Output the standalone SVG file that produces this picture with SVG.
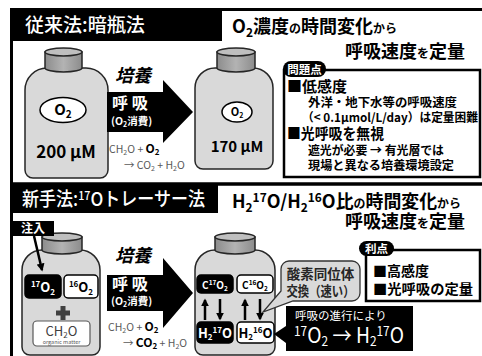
<svg xmlns="http://www.w3.org/2000/svg" width="482" height="356" viewBox="0 0 482 356">
<style>
  text { font-family: "Noto Sans CJK JP", "Noto Sans", sans-serif; }
  .hdr { fill: #fff; font-size: 19px; font-weight: 500; }
  .ttl { fill: #000; font-size: 18px; font-weight: bold; }
  .sm { font-size: 12px; }
  .bottle { fill: #d9d9d9; stroke: #262626; stroke-width: 1.5; }
  .cap { fill: url(#capGrad); stroke: #262626; stroke-width: 1.5; }
  .capTop { fill: #bfbfbf; stroke: #262626; stroke-width: 1.5; }
  .big { fill: #000; }
  .wt { fill: #fff; font-weight: bold; }
  .eq { fill: #595959; font-size: 10.5px; }
  .eqb { fill: #000; font-weight: bold; font-size: 12px; }
  .kb { fill: #000; stroke: #000; stroke-width: 1.5; }
  .wb { fill: #fff; stroke: #000; stroke-width: 1.5; }
  .frame { fill: none; stroke: #000; stroke-width: 3; }
  .note { font-size: 12px; font-weight: bold; fill: #000; }
  .item { font-size: 15px; font-weight: bold; fill: #000; }
  .item2 { font-size: 14px; font-weight: bold; fill: #000; }
</style>
<defs>
  <linearGradient id="capGrad" x1="0" y1="0" x2="1" y2="0">
    <stop offset="0" stop-color="#8c8c8c"/>
    <stop offset="0.5" stop-color="#b3b3b3"/>
    <stop offset="1" stop-color="#8c8c8c"/>
  </linearGradient>
  <marker id="ah" viewBox="0 0 10 10" refX="8" refY="5" markerWidth="3.2" markerHeight="3.2" orient="auto">
    <path d="M0,0 L10,5 L0,10 Z" fill="#000"/>
  </marker>
</defs>

<rect width="482" height="356" fill="#fff"/>

<!-- frames -->
<g id="frames">
  <path class="frame" d="M11.5,356 V9.5 H490"/>
  <line x1="10" y1="184" x2="490" y2="184" stroke="#000" stroke-width="3.5"/>
</g>

<!-- ===== top panel: conventional method ===== -->
<g id="header-old">
  <rect x="10" y="8" width="212" height="33" fill="#000"/>
  <text class="hdr" x="25" y="32">従来法:暗瓶法</text>
</g>
<g id="title-old">
  <text class="ttl" x="232" y="33">O<tspan font-size="12" dy="4">2</tspan><tspan dy="-4">濃度</tspan><tspan class="sm">の</tspan>時間変化<tspan class="sm">から</tspan></text>
  <text class="ttl" x="465" y="58" text-anchor="end">呼吸速度<tspan class="sm">を</tspan>定量</text>
</g>

<g id="bottle-200">
  <path class="bottle" d="M25,170 V90 A22 22 0 0 1 47,68 H86 A22 22 0 0 1 108,90 V170 A8 8 0 0 1 100,178 H33 A8 8 0 0 1 25,170 Z"/>
  <path class="cap" d="M45,52 V68 A18.5 4 0 0 0 82,68 V52 Z"/>
  <ellipse class="capTop" cx="63.5" cy="52" rx="18.5" ry="4"/>
  <ellipse cx="63" cy="110" rx="23" ry="12.5" fill="#fff" stroke="#000" stroke-width="1.5"/>
  <text x="63" y="115" text-anchor="middle" font-size="15" font-weight="bold">O<tspan font-size="10" dy="3">2</tspan></text>
  <text x="66" y="158" text-anchor="middle" font-size="17" font-weight="bold">200 μM</text>
</g>

<g id="culture-old">
  <path class="big" d="M107,92 H163 V80 L193,112 L163,143 V132 H107 Z"/>
  <text x="133" y="82" text-anchor="middle" font-size="18" font-weight="bold" font-style="italic">培養</text>
  <text class="wt" x="112" y="109" font-size="16">呼 吸</text>
  <text class="wt" x="111" y="125" font-size="10.5">(O<tspan font-size="7" dy="2">2</tspan><tspan dy="-2">消費)</tspan></text>
  <text class="eq" x="109" y="153">CH<tspan font-size="7" dy="2">2</tspan><tspan dy="-2">O + </tspan><tspan class="eqb">O<tspan font-size="8" dy="2">2</tspan></tspan></text>
  <text class="eq" x="124" y="169">→ CO<tspan font-size="7" dy="2">2</tspan><tspan dy="-2"> + H</tspan><tspan font-size="7" dy="2">2</tspan><tspan dy="-2">O</tspan></text>
</g>

<g id="bottle-170">
  <path class="bottle" d="M195,161 V88 A20 20 0 0 1 215,68 H253 A20 20 0 0 1 273,88 V161 A8 8 0 0 1 265,169 H203 A8 8 0 0 1 195,161 Z"/>
  <path class="cap" d="M217,52 V68 A19 4 0 0 0 255,68 V52 Z"/>
  <ellipse class="capTop" cx="236" cy="52" rx="19" ry="4"/>
  <ellipse cx="237" cy="112" rx="15" ry="10" fill="#fff" stroke="#000" stroke-width="1.5"/>
  <text x="237" y="116" text-anchor="middle" font-size="11" font-weight="bold">O<tspan font-size="7" dy="2">2</tspan></text>
  <text x="237" y="152" text-anchor="middle" font-size="15" font-weight="bold">170 μM</text>
</g>

<g id="problems">
  <rect x="284" y="70" width="196" height="107" fill="#fff" stroke="#000" stroke-width="2.5"/>
  <rect x="283" y="61" width="43" height="16" rx="8" fill="#000"/>
  <text class="wt" x="304.5" y="73.5" text-anchor="middle" font-size="11.5">問題点</text>
  <text class="item" x="287" y="92">■低感度</text>
  <text class="note" x="308" y="107" textLength="149" lengthAdjust="spacingAndGlyphs">外洋・地下水等の呼吸速度</text>
  <text class="note" x="302" y="122" textLength="176" lengthAdjust="spacingAndGlyphs">（&lt; 0.1μmol/L/day）は定量困難</text>
  <text class="item" x="287" y="139" textLength="97" lengthAdjust="spacingAndGlyphs">■光呼吸を無視</text>
  <text class="note" x="308" y="155" textLength="136" lengthAdjust="spacingAndGlyphs">遮光が必要 → 有光層では</text>
  <text class="note" x="308" y="170" textLength="146" lengthAdjust="spacingAndGlyphs">現場と異なる培養環境設定</text>
</g>

<!-- ===== bottom panel: 17O tracer method ===== -->
<g id="header-new">
  <rect x="10" y="184" width="208" height="29" fill="#000"/>
  <text class="hdr" x="22" y="206" textLength="183" lengthAdjust="spacingAndGlyphs">新手法:<tspan font-size="12" dy="-6">17</tspan><tspan dy="6">Oトレーサー法</tspan></text>
</g>
<g id="title-new">
  <text class="ttl" x="232" y="208" textLength="229" lengthAdjust="spacingAndGlyphs">H<tspan font-size="12" dy="4">2</tspan><tspan font-size="12" dy="-10">17</tspan><tspan dy="6">O/H</tspan><tspan font-size="12" dy="4">2</tspan><tspan font-size="12" dy="-10">16</tspan><tspan dy="6">O比</tspan><tspan class="sm">の</tspan>時間変化<tspan class="sm">から</tspan></text>
  <text class="ttl" x="465" y="228" text-anchor="end">呼吸速度<tspan class="sm">を</tspan>定量</text>
</g>

<g id="bottle-start">
  <path class="bottle" d="M22,347 V270 A20 20 0 0 1 42,250 H80 A20 20 0 0 1 100,270 V347 A8 8 0 0 1 92,355 H30 A8 8 0 0 1 22,347 Z"/>
  <path class="cap" d="M42,237 V250 A20 4 0 0 0 82,250 V237 Z"/>
  <ellipse class="capTop" cx="62" cy="237" rx="20" ry="4"/>
  <rect class="kb" x="25" y="275" width="36" height="23" rx="4"/>
  <text x="43" y="292" text-anchor="middle" fill="#fff" font-weight="bold" font-size="13"><tspan font-size="8" dy="-5">17</tspan><tspan dy="5">O</tspan><tspan font-size="8" dy="3">2</tspan></text>
  <rect class="wb" x="64" y="275" width="34" height="23" rx="4"/>
  <text x="81" y="292" text-anchor="middle" font-weight="bold" font-size="13"><tspan font-size="8" dy="-5">16</tspan><tspan dy="5">O</tspan><tspan font-size="8" dy="3">2</tspan></text>
  <path d="M60.5,306 H65.5 V310.5 H70 V315.5 H65.5 V320 H60.5 V315.5 H56 V310.5 H60.5 Z" fill="#404040"/>
  <rect x="33" y="321" width="57" height="25" rx="4" fill="#fff" stroke="#595959" stroke-width="1.2"/>
  <text x="61.5" y="336" text-anchor="middle" font-size="13" fill="#404040">CH<tspan font-size="8" dy="2">2</tspan><tspan dy="-2">O</tspan></text>
  <text x="61.5" y="343.5" text-anchor="middle" font-size="5.5" fill="#595959">organic matter</text>
</g>

<g id="inject">
  <rect x="12" y="221" width="42" height="15" fill="#000"/>
  <text class="wt" x="33" y="233" text-anchor="middle" font-size="12">注入</text>
</g>

<g id="culture-new">
  <path class="big" d="M107,275 H163 V258 L193,293 L163,328 V311 H107 Z"/>
  <text x="133" y="262" text-anchor="middle" font-size="18" font-weight="bold" font-style="italic">培養</text>
  <text class="wt" x="112" y="290" font-size="16">呼 吸</text>
  <text class="wt" x="111" y="305" font-size="10.5">(O<tspan font-size="7" dy="2">2</tspan><tspan dy="-2">消費)</tspan></text>
  <text class="eq" x="108" y="331">CH<tspan font-size="7" dy="2">2</tspan><tspan dy="-2">O + </tspan><tspan class="eqb">O<tspan font-size="8" dy="2">2</tspan></tspan></text>
  <text class="eq" x="123" y="347">→ <tspan class="eqb" font-weight="normal" fill="#404040">CO<tspan font-size="8" dy="2">2</tspan></tspan><tspan dy="-2"> + H</tspan><tspan font-size="7" dy="2">2</tspan><tspan dy="-2">O</tspan></text>
</g>

<g id="bottle-exchange">
  <path class="bottle" d="M195,347 V270 A20 20 0 0 1 215,250 H255 A20 20 0 0 1 275,270 V347 A8 8 0 0 1 267,355 H203 A8 8 0 0 1 195,347 Z"/>
  <path class="cap" d="M215,237 V250 A20 4 0 0 0 255,250 V237 Z"/>
  <ellipse class="capTop" cx="235" cy="237" rx="20" ry="4"/>
  <rect class="kb" x="197" y="275" width="36" height="18" rx="4"/>
  <text x="215" y="289" text-anchor="middle" fill="#fff" font-weight="bold" font-size="10">C<tspan font-size="6.5" dy="-4">17</tspan><tspan dy="4">O</tspan><tspan font-size="6.5" dy="2">2</tspan></text>
  <rect class="wb" x="237" y="275" width="36" height="18" rx="4"/>
  <text x="255" y="289" text-anchor="middle" font-weight="bold" font-size="10">C<tspan font-size="6.5" dy="-4">16</tspan><tspan dy="4">O</tspan><tspan font-size="6.5" dy="2">2</tspan></text>
  <rect class="kb" x="197" y="322" width="36" height="21" rx="4"/>
  <text x="215" y="338" text-anchor="middle" fill="#fff" font-weight="bold" font-size="13">H<tspan font-size="8" dy="2">2</tspan><tspan font-size="8" dy="-7">17</tspan><tspan dy="5">O</tspan></text>
  <rect class="wb" x="237" y="322" width="37" height="21" rx="4"/>
  <text x="255.5" y="338" text-anchor="middle" font-weight="bold" font-size="13">H<tspan font-size="8" dy="2">2</tspan><tspan font-size="8" dy="-7">16</tspan><tspan dy="5">O</tspan></text>
</g>

<g id="connectors">
  <line x1="34" y1="236" x2="42" y2="270" stroke="#000" stroke-width="2.5" marker-end="url(#ah)"/>
  <line x1="205" y1="320" x2="205" y2="300" stroke="#000" stroke-width="2.5" marker-end="url(#ah)"/>
  <line x1="220" y1="299" x2="220" y2="319" stroke="#000" stroke-width="2.5" marker-end="url(#ah)"/>
  <line x1="245" y1="320" x2="245" y2="300" stroke="#000" stroke-width="2.5" marker-end="url(#ah)"/>
  <line x1="260" y1="299" x2="260" y2="319" stroke="#000" stroke-width="2.5" marker-end="url(#ah)"/>
</g>

<g id="exchange-note">
  <path d="M289,261 H352 A8 8 0 0 1 360,269 V293 A8 8 0 0 1 352,301 H293 L263,312 L281,291 V269 A8 8 0 0 1 289,261 Z" fill="#d9d9d9" stroke="#333" stroke-width="1.3"/>
  <text x="320.5" y="279" text-anchor="middle" font-size="13.5" font-weight="bold" fill="#262626">酸素同位体</text>
  <text x="320.5" y="296" text-anchor="middle" font-size="13.5" font-weight="bold" fill="#262626" textLength="68" lengthAdjust="spacingAndGlyphs">交換（速い）</text>
</g>

<g id="progress-note">
  <path d="M286,306 H413 V351 H286 V343 L274,334 L286,326 Z" fill="#000"/>
  <text x="295" y="320" fill="#fff" font-size="11.5">呼吸の進行により</text>
  <text x="294" y="343" fill="#fff" font-size="21" textLength="110" lengthAdjust="spacingAndGlyphs"><tspan font-size="13" dy="-7">17</tspan><tspan dy="7">O</tspan><tspan font-size="13" dy="3">2</tspan><tspan dy="-3"> → H</tspan><tspan font-size="13" dy="3">2</tspan><tspan font-size="13" dy="-10">17</tspan><tspan dy="7">O</tspan></text>
</g>

<g id="benefits">
  <rect x="366" y="250" width="114" height="51" fill="#fff" stroke="#000" stroke-width="2.5"/>
  <rect x="359" y="241" width="35" height="15" rx="7.5" fill="#000"/>
  <text class="wt" x="376.5" y="253" text-anchor="middle" font-size="11.5">利点</text>
  <text class="item2" x="373" y="276">■高感度</text>
  <text class="item2" x="373" y="294" textLength="100" lengthAdjust="spacingAndGlyphs">■光呼吸の定量</text>
</g>
</svg>
